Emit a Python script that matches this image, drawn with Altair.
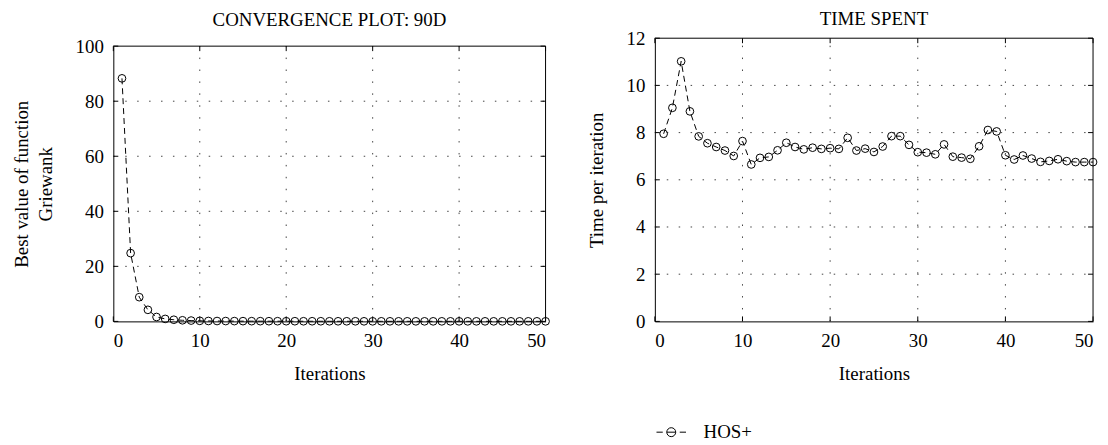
import altair as alt
import pandas as pd

iterations = list(range(1, 51))
best_value = [88.3, 24.8, 8.8, 4.2, 1.6, 0.9, 0.6, 0.4, 0.3, 0.2,
              0.15, 0.13, 0.12, 0.1, 0.09, 0.08, 0.08, 0.07, 0.07, 0.06,
              0.06, 0.05, 0.05, 0.05, 0.04, 0.04, 0.04, 0.04, 0.03, 0.03,
              0.03, 0.03, 0.03, 0.03, 0.02, 0.02, 0.02, 0.02, 0.02, 0.02,
              0.02, 0.02, 0.02, 0.02, 0.02, 0.02, 0.02, 0.02, 0.02, 0.02]
time_spent = [7.95, 9.05, 11.02, 8.9, 7.84, 7.55, 7.39, 7.24, 7.01, 7.64,
              6.65, 6.93, 6.97, 7.25, 7.57, 7.39, 7.29, 7.36, 7.31, 7.34,
              7.31, 7.78, 7.24, 7.32, 7.18, 7.41, 7.85, 7.85, 7.48, 7.17,
              7.15, 7.08, 7.5, 6.98, 6.94, 6.89, 7.42, 8.11, 8.05, 7.04,
              6.86, 7.03, 6.9, 6.76, 6.8, 6.87, 6.79, 6.75, 6.75, 6.75]
series_name = "HOS+"
x_ticks = [0, 10, 20, 30, 40, 50]
left_y_ticks = [0, 20, 40, 60, 80, 100]
right_y_ticks = [0, 2, 4, 6, 8, 10, 12]

FONT = "Liberation Serif"
FS = 19
H = 285
DOT = [1.5, 10.5]
LEG_PATH = ("M-3.3,0H-1.9 M-1,0A1,1 0 1,1 1,0A1,1 0 1,1 -1,0Z "
            "M-1,0H1 M1.9,0H3.3")


def panel(values, yticks, ytitle, yrange, title, title_offset, with_legend):
    xmax, ymin, ymax = x_ticks[-1], yticks[0], yticks[-1]
    df = pd.DataFrame({"Iteration": iterations, "Value": values, "Series": series_name})
    xs = alt.Scale(domain=[x_ticks[0], xmax], nice=False, zero=False)
    ys = alt.Scale(domain=[ymin, ymax], nice=False, range=yrange)
    x = alt.X("Iteration:Q", scale=xs, axis=alt.Axis(values=x_ticks, title="Iterations"))
    y = alt.Y("Value:Q", scale=ys, axis=alt.Axis(values=yticks, title=ytitle))

    xt = pd.DataFrame({"t": x_ticks})
    yt = pd.DataFrame({"t": yticks})
    xg = pd.DataFrame({"t": x_ticks[1:-1]})
    yg = pd.DataFrame({"t": yticks[1:-1]})

    vgrid = alt.Chart(xg).mark_rule(color="#444", strokeDash=DOT, strokeWidth=1).encode(
        x=alt.X("t:Q", scale=xs), y=alt.datum(ymin), y2=alt.datum(ymax))
    hgrid = alt.Chart(yg).mark_rule(color="#444", strokeDash=DOT, strokeWidth=1).encode(
        y=alt.Y("t:Q", scale=ys), x=alt.datum(x_ticks[0]), x2=alt.datum(xmax))
    top = alt.Chart(xg.head(1)).mark_rule(color="black", strokeWidth=1).encode(
        y=alt.datum(ymax), x=alt.datum(x_ticks[0]), x2=alt.datum(xmax))
    rightb = alt.Chart(xg.head(1)).mark_rule(color="black", strokeWidth=1).encode(
        x=alt.datum(xmax), y=alt.datum(ymin), y2=alt.datum(ymax))
    tb = alt.Chart(xt).mark_rule(color="black", strokeWidth=1, y2Offset=-5).encode(
        x=alt.X("t:Q", scale=xs), y=alt.datum(ymin), y2=alt.datum(ymin))
    tt = alt.Chart(xt).mark_rule(color="black", strokeWidth=1, y2Offset=5).encode(
        x=alt.X("t:Q", scale=xs), y=alt.datum(ymax), y2=alt.datum(ymax))
    tl = alt.Chart(yt).mark_rule(color="black", strokeWidth=1, x2Offset=5).encode(
        y=alt.Y("t:Q", scale=ys), x=alt.datum(x_ticks[0]), x2=alt.datum(x_ticks[0]))
    tr = alt.Chart(yt).mark_rule(color="black", strokeWidth=1, x2Offset=-5).encode(
        y=alt.Y("t:Q", scale=ys), x=alt.datum(xmax), x2=alt.datum(xmax))

    line = alt.Chart(df).mark_line(color="black", strokeDash=[6, 4], strokeWidth=1).encode(x=x, y=y)
    if with_legend:
        color = alt.Color("Series:N", scale=alt.Scale(range=["black"]),
                          legend=alt.Legend(title=None, orient="none", legendX=7, legendY=387,
                                            symbolType=LEG_PATH, symbolSize=81,
                                            symbolStrokeWidth=1, labelOffset=23,
                                            labelFont=FONT, labelFontSize=FS,
                                            labelColor="black"))
    else:
        color = alt.value("black")
    pts = alt.Chart(df).mark_point(shape="circle", filled=False, size=60, strokeWidth=1,
                                   opacity=1).encode(x=x, y=y, color=color)
    return alt.layer(line, vgrid, hgrid, top, rightb, tb, tt, tl, tr, pts).properties(
        width=441 if with_legend else 435, height=H,
        view=alt.ViewBackground(stroke="transparent"),
        title=alt.TitleParams(title, fontSize=FS, font=FONT, fontWeight="normal",
                              offset=title_offset))


left = panel(best_value, left_y_ticks, ["Best value of function", "Griewank"],
             [H, 8], "CONVERGENCE PLOT: 90D", 7, False)
right = panel(time_spent, right_y_ticks, "Time per iteration",
              [H, 0], "TIME SPENT", 0, True)

chart = alt.hconcat(left, right, spacing=34).resolve_scale(
    color="independent").resolve_legend(color="independent").properties(
    padding={"left": 4, "top": 0, "right": 0, "bottom": 0}
).configure_axis(
    labelFont=FONT, labelFontSize=FS, labelColor="black",
    titleFont=FONT, titleFontSize=FS, titleColor="black", titleFontWeight="normal",
    domainColor="black", domainWidth=1,
    ticks=False, labelPadding=10, grid=False,
).configure_axisY(
    titlePadding=20, labelPadding=10, titleLineHeight=24
).configure_axisX(
    titlePadding=14
).configure_title(color="black", anchor="middle")

chart.save("out.html", embed_options={"renderer": "svg", "actions": False})
